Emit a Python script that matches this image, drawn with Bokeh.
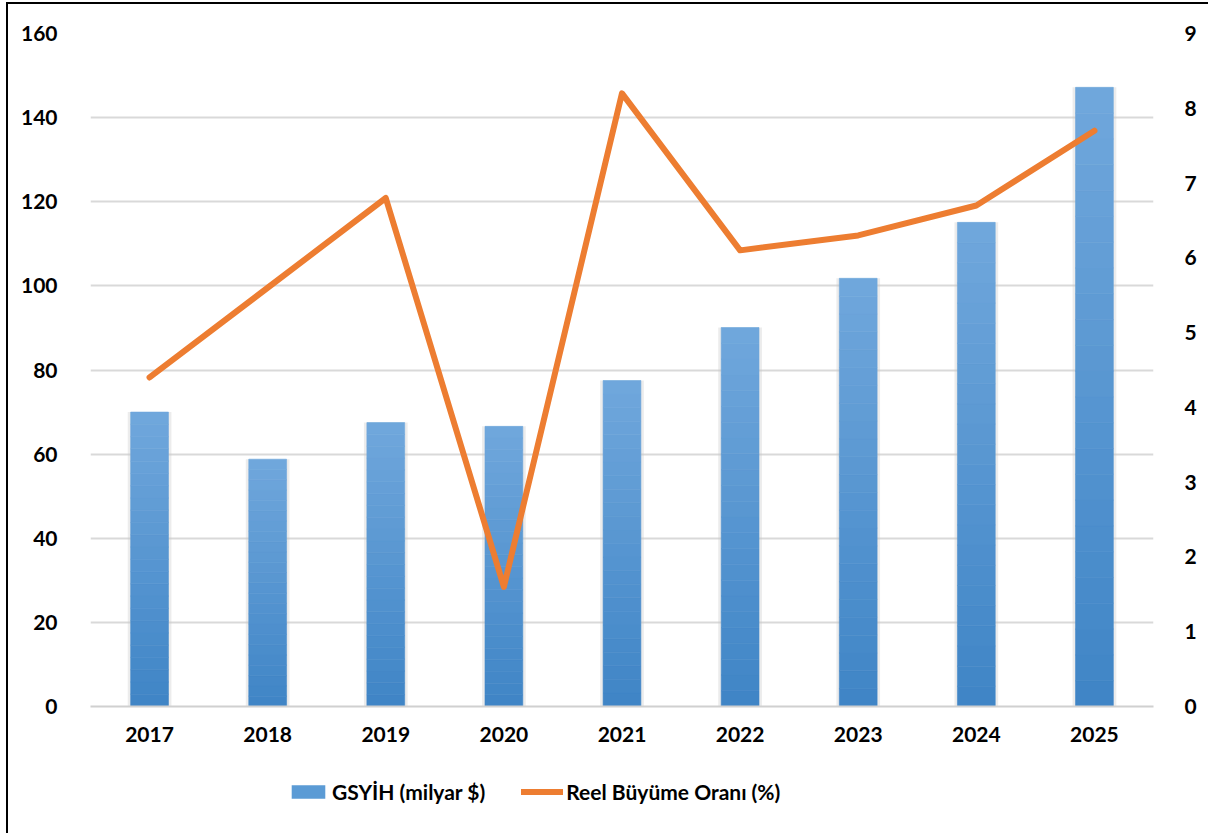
import numpy as np
from bokeh.plotting import figure
from bokeh.layouts import column
from bokeh.models import (Range1d, FactorRange, LinearAxis, FixedTicker, Legend, LegendItem,
                          ColumnDataSource)
from bokeh.embed import file_html
from bokeh.resources import INLINE

# ---- data ----
years = ["2017", "2018", "2019", "2020", "2021", "2022", "2023", "2024", "2025"]
gdp = [70.0, 58.8, 67.5, 66.6, 77.5, 90.1, 101.8, 115.1, 147.2]
growth = [4.4, 5.6, 6.8, 1.6, 8.2, 6.1, 6.3, 6.7, 7.7]
left_ticks = [0, 20, 40, 60, 80, 100, 120, 140, 160]
right_ticks = [0, 1, 2, 3, 4, 5, 6, 7, 8, 9]
gdp_label = "GSYİH (milyar $)"
growth_label = "Reel Büyüme Oranı (%)"

FONT = "Lato"
FS = "21px"
BAR_COLOR = "#5b9bd5"
LINE_COLOR = "#ed7d31"

p = figure(width=1200, height=760, x_range=FactorRange(*years, range_padding=0),
           y_range=Range1d(0, 160), output_backend="svg", toolbar_location=None,
           min_border_left=82, min_border_top=29, min_border_right=55, min_border_bottom=58)
p.outline_line_color = None
p.background_fill_color = "white"
p.border_fill_color = "white"
p.extra_y_ranges = {"rate": Range1d(0, 9)}

# shadow halo behind bars
p.vbar(x=years, top=gdp, width=0.37, fill_color="#c8c8c8", fill_alpha=0.35, line_color=None)

# gradient bars (stacked slices: dark bottom -> light top)
N = 24
c_bot = np.array([0x3f, 0x85, 0xc6])
c_top = np.array([0x71, 0xa8, 0xdd])
gdp_arr = np.array(gdp)
for i in range(N):
    t = (i + 0.5) / N
    c = (c_bot * (1 - t) + c_top * t).astype(int)
    col = "#%02x%02x%02x" % tuple(c)
    src = ColumnDataSource(dict(x=years, bottom=gdp_arr * i / N, top=gdp_arr * (i + 1) / N))
    p.vbar(x="x", bottom="bottom", top="top", width=0.32, source=src,
           fill_color=col, line_color=col, line_width=0.6)

# growth line
p.line(x=years, y=growth, y_range_name="rate", line_color=LINE_COLOR,
       line_width=6, line_join="round", line_cap="round")

# axes styling
for ax in [p.yaxis[0], p.xaxis[0]]:
    ax.major_label_text_font = FONT
    ax.major_label_text_font_size = FS
    ax.major_label_text_font_style = "bold"
    ax.major_label_text_color = "black"
    ax.major_tick_line_color = None
    ax.minor_tick_line_color = None

p.yaxis[0].ticker = FixedTicker(ticks=left_ticks)
p.yaxis[0].axis_line_color = None
p.yaxis[0].major_label_standoff = 27
p.xaxis[0].axis_line_color = "#d0d0d0"
p.xaxis[0].axis_line_width = 2
p.xaxis[0].major_label_standoff = 14
p.xaxis[0].group_text_font_size = "0px"

rax = LinearAxis(y_range_name="rate", ticker=FixedTicker(ticks=right_ticks))
rax.major_label_text_font = FONT
rax.major_label_text_font_size = FS
rax.major_label_text_font_style = "bold"
rax.major_label_text_color = "black"
rax.major_tick_line_color = None
rax.minor_tick_line_color = None
rax.axis_line_color = None
rax.major_label_standoff = 25
p.add_layout(rax, "right")

p.xgrid.grid_line_color = None
p.ygrid.ticker = FixedTicker(ticks=left_ticks)
p.ygrid.grid_line_color = "#d9d9d9"
p.ygrid.grid_line_width = 2

# ---- legend strip below the chart (legend-only renderers, degenerate so they draw nothing) ----
lg = figure(width=1200, height=69, x_range=Range1d(0, 1), y_range=Range1d(0, 1),
            output_backend="svg", toolbar_location=None, x_axis_type=None, y_axis_type=None,
            min_border=0)
lg.outline_line_color = None
lg.grid.visible = False
r_bar = lg.vbar(x=[0.5], bottom=[0], top=[0], width=0.0, fill_color=BAR_COLOR, line_color=None)
r_line = lg.line(x=[0.5], y=[0.0], line_color=LINE_COLOR, line_width=6, line_cap="round")

legend = Legend(items=[LegendItem(label=gdp_label, renderers=[r_bar]),
                       LegendItem(label=growth_label, renderers=[r_line])],
                orientation="horizontal", location=(197, 29))
legend.label_text_font = FONT
legend.label_text_font_size = FS
legend.label_text_font_style = "bold"
legend.label_text_color = "black"
legend.glyph_width = 42
legend.glyph_height = 17
legend.label_standoff = 3
legend.spacing = 36
legend.padding = 5
legend.margin = 0
legend.border_line_color = None
legend.background_fill_alpha = 0
lg.add_layout(legend)

layout = column(p, lg, spacing=0)
layout.styles = {"border-left": "2px solid black", "border-top": "2px solid black",
                 "margin-left": "6px", "margin-top": "2px"}

open("out.html", "w").write(file_html(layout, INLINE))
